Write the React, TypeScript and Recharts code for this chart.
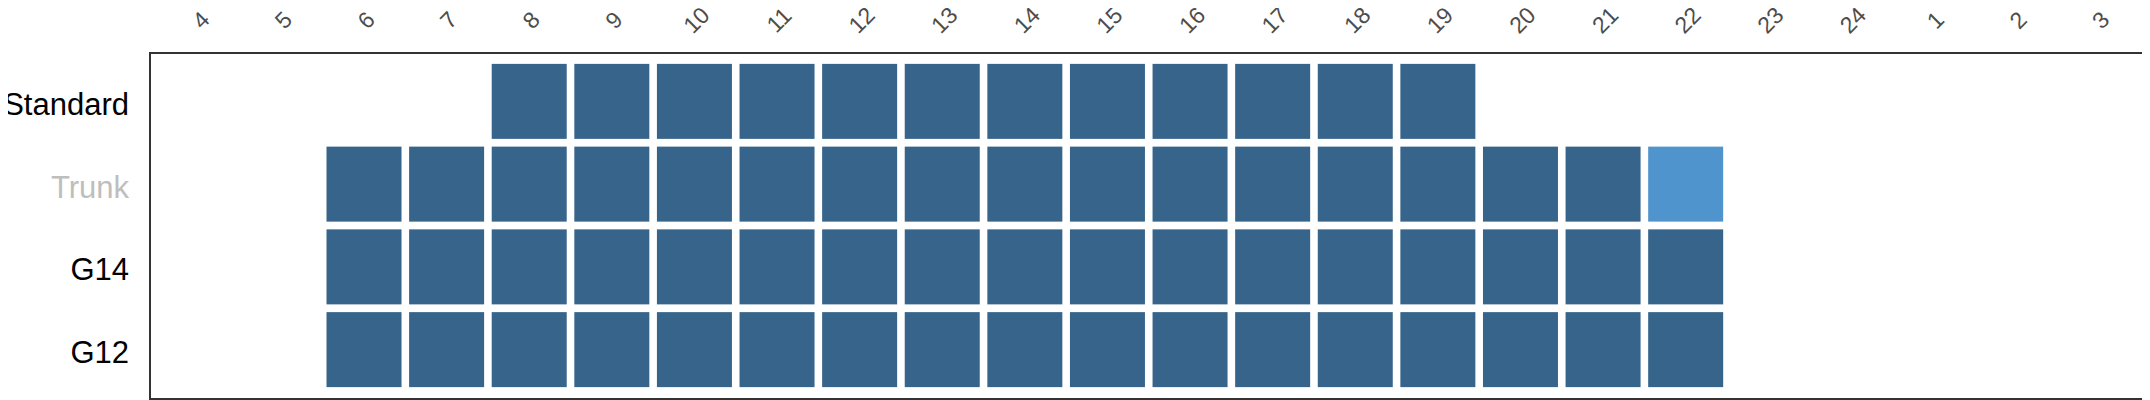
import React from 'react';
import * as R from 'recharts';
import { ScatterChart, Scatter, XAxis, YAxis } from 'recharts';

const hours = ['4', '5', '6', '7', '8', '9', '10', '11', '12', '13', '14', '15', '16', '17', '18', '19', '20', '21', '22', '23', '24', '1', '2', '3'];
const types = ['Standard', 'Trunk', 'G14', 'G12'];

// 0 = empty, 1 = available, 2 = highlighted
const standardValues = [0, 0, 0, 0, 1, 1, 1, 1, 1, 1, 1, 1, 1, 1, 1, 1, 0, 0, 0, 0, 0, 0, 0, 0];
const trunkValues = [0, 0, 1, 1, 1, 1, 1, 1, 1, 1, 1, 1, 1, 1, 1, 1, 1, 1, 2, 0, 0, 0, 0, 0];
const g14Values = [0, 0, 1, 1, 1, 1, 1, 1, 1, 1, 1, 1, 1, 1, 1, 1, 1, 1, 1, 0, 0, 0, 0, 0];
const g12Values = [0, 0, 1, 1, 1, 1, 1, 1, 1, 1, 1, 1, 1, 1, 1, 1, 1, 1, 1, 0, 0, 0, 0, 0];

const seriesByType: Record<string, number[]> = {
  Standard: standardValues,
  Trunk: trunkValues,
  G14: g14Values,
  G12: g12Values,
};

const data = types.flatMap((type) =>
  hours.map((hour, i) => ({ hour, type, status: seriesByType[type][i] }))
);

const DARK = '#36648B';
const LIGHT = '#4F94CD';
const CELL = 75;
const FONT = '"Liberation Sans", Arial, sans-serif';

const CellShape = (props: any) => {
  const { cx, cy, payload } = props;
  if (!payload || !payload.status || cx == null || cy == null) return <g />;
  return (
    <rect
      x={cx - CELL / 2}
      y={cy - CELL / 2}
      width={CELL}
      height={CELL}
      fill={payload.status === 2 ? LIGHT : DARK}
    />
  );
};

const XTick = (props: any) => {
  const { x, y, payload } = props;
  const tx = x + 2;
  const ty = y - 33;
  return (
    <text
      x={tx}
      y={ty}
      transform={`rotate(-45 ${tx} ${ty})`}
      textAnchor="middle"
      dominantBaseline="central"
      fontSize={23}
      fontFamily={FONT}
      fill="#4D4D4D"
    >
      {payload.value}
    </text>
  );
};

const YTick = (props: any) => {
  const { x, y, payload } = props;
  return (
    <text
      x={x - 21}
      y={y + 3}
      textAnchor="end"
      dominantBaseline="central"
      fontSize={31}
      fontFamily={FONT}
      fill={payload.value === 'Trunk' ? '#BEBEBE' : '#000000'}
    >
      {payload.value}
    </text>
  );
};

const usePA: any = (R as any).usePlotArea || (R as any).useOffset;

const Frame = () => {
  const area = usePA ? usePA() : null;
  if (!area) return null;
  const x = area.x ?? area.left;
  const y = area.y ?? area.top;
  const w = area.width ?? 2150 - area.left - area.right;
  const h = area.height ?? 400 - area.top - area.bottom;
  return <rect x={x} y={y} width={w} height={h} fill="none" stroke="#333333" strokeWidth={2} />;
};

export default function App() {
  return (
    <div style={{ marginLeft: -8, marginTop: -8, width: 2150, height: 400, background: '#fff' }}>
      <ScatterChart width={2150} height={400} margin={{ top: 0, left: 0, right: 1, bottom: 1 }}>
        <XAxis
          xAxisId="x"
          type="category"
          dataKey="hour"
          orientation="top"
          allowDuplicatedCategory={false}
          height={53}
          padding={{ left: 7.5, right: 9 }}
          axisLine={false}
          tickLine={false}
          tickSize={0}
          tickMargin={0}
          interval={0}
          tick={<XTick />}
        />
        <YAxis
          yAxisId="y"
          type="category"
          dataKey="type"
          reversed
          allowDuplicatedCategory={false}
          width={150}
          padding={{ top: 7, bottom: 8 }}
          axisLine={false}
          tickLine={false}
          tickSize={0}
          tickMargin={0}
          interval={0}
          tick={<YTick />}
        />
        <Scatter
          xAxisId="x"
          yAxisId="y"
          data={data}
          dataKey="status"
          shape={<CellShape />}
          isAnimationActive={false}
        />
        <Frame />
      </ScatterChart>
    </div>
  );
}
